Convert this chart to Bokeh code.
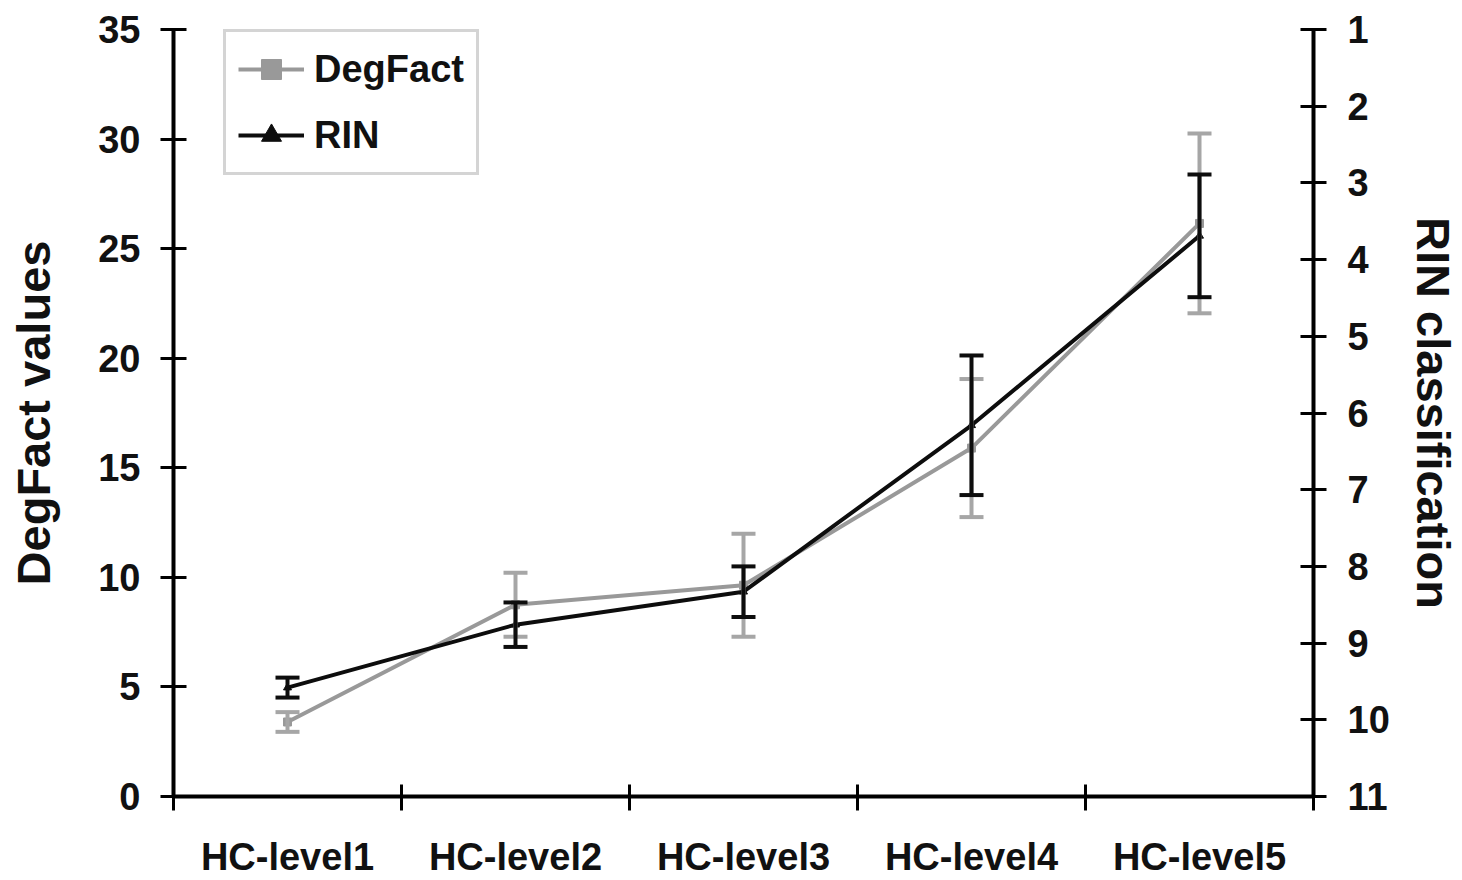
import numpy as np
from bokeh.plotting import figure
from bokeh.models import (Range1d, LinearAxis, FixedTicker, Whisker, TeeHead,
                          ColumnDataSource)
from bokeh.embed import file_html
from bokeh.resources import INLINE

# ---- data ----
categories = ["HC-level1", "HC-level2", "HC-level3", "HC-level4", "HC-level5"]
degfact = [3.4, 8.75, 9.64, 15.9, 26.15]
degfact_err = [0.45, 1.46, 2.35, 3.15, 4.1]
rin = [9.58, 8.76, 8.33, 6.16, 3.69]
rin_err = [0.13, 0.29, 0.33, 0.91, 0.8]
left_ticks = [0, 5, 10, 15, 20, 25, 30, 35]
rin_ticks = [1, 2, 3, 4, 5, 6, 7, 8, 9, 10, 11]

FONT = "Liberation Sans"
GRAY_LINE = "#999999"
GRAY_BAR = "#a6a6a6"
BLACK = "#0d0d0d"
TXT = "#111111"

n = len(categories)
xc = np.arange(n) + 0.5          # category centres
bounds = list(np.arange(n + 1))  # category boundaries

src_d = ColumnDataSource(dict(x=xc, y=degfact,
                              lo=np.array(degfact) - np.array(degfact_err),
                              hi=np.array(degfact) + np.array(degfact_err)))
src_r = ColumnDataSource(dict(x=xc, y=rin,
                              lo=np.array(rin) - np.array(rin_err),
                              hi=np.array(rin) + np.array(rin_err)))

p = figure(width=1462, height=880, output_backend="svg", toolbar_location=None,
           x_range=Range1d(0, n), y_range=Range1d(left_ticks[0], left_ticks[-1]),
           min_border_left=173, min_border_right=149, min_border_top=29,
           min_border_bottom=83)
p.extra_y_ranges = {"rin": Range1d(start=rin_ticks[-1], end=rin_ticks[0])}
p.outline_line_color = None
p.xgrid.visible = False
p.ygrid.visible = False
p.background_fill_color = "white"
p.border_fill_color = "white"

# ---- DegFact (gray) ----
wd = Whisker(base="x", lower="lo", upper="hi", source=src_d, dimension="height",
             line_color=GRAY_BAR, line_width=4, level="glyph",
             upper_head=TeeHead(size=24, line_color=GRAY_BAR, line_width=4),
             lower_head=TeeHead(size=24, line_color=GRAY_BAR, line_width=4))
p.add_layout(wd)
p.line("x", "y", source=src_d, line_color=GRAY_LINE, line_width=4, legend_label="DegFact")
p.scatter("x", "y", source=src_d, marker="square", size=8, color=GRAY_LINE, legend_label="DegFact")

# ---- RIN (black) ----
wr = Whisker(base="x", lower="lo", upper="hi", source=src_r, dimension="height",
             y_range_name="rin", line_color=BLACK, line_width=4, level="glyph",
             upper_head=TeeHead(size=24, line_color=BLACK, line_width=4),
             lower_head=TeeHead(size=24, line_color=BLACK, line_width=4))
p.add_layout(wr)
p.line("x", "y", source=src_r, y_range_name="rin", line_color=BLACK, line_width=4, legend_label="RIN")
p.scatter("x", "y", source=src_r, y_range_name="rin", marker="triangle", size=8,
          color=BLACK, legend_label="RIN")

# ---- x axis ----
xa = p.xaxis[0]
xa.ticker = FixedTicker(ticks=list(xc), minor_ticks=bounds)
xa.major_label_overrides = {float(c): lab for c, lab in zip(xc, categories)}
xa.major_tick_in = 0
xa.major_tick_out = 0
xa.minor_tick_in = 12
xa.minor_tick_out = 14
xa.minor_tick_line_color = "black"
xa.minor_tick_line_width = 3
xa.axis_line_width = 4
xa.axis_line_color = "black"
xa.major_label_text_font = FONT
xa.major_label_text_font_size = "38px"
xa.major_label_text_font_style = "bold"
xa.major_label_text_color = TXT
xa.major_label_standoff = 25

# ---- left axis ----
ya = p.yaxis[0]
ya.ticker = FixedTicker(ticks=left_ticks)
ya.axis_label = "DegFact values"
ya.axis_label_text_font = FONT
ya.axis_label_text_font_size = "47px"
ya.axis_label_text_font_style = "bold"
ya.axis_label_text_color = TXT
ya.axis_label_text_line_height = 0.9
ya.axis_label_standoff = 35
ya.axis_line_width = 4
ya.major_tick_in = 13
ya.major_tick_out = 13
ya.major_tick_line_width = 3
ya.minor_tick_line_color = None
ya.major_label_text_font = FONT
ya.major_label_text_font_size = "38px"
ya.major_label_text_font_style = "bold"
ya.major_label_text_color = TXT
ya.major_label_standoff = 20

# ---- right axis ----
ra = LinearAxis(y_range_name="rin", ticker=FixedTicker(ticks=rin_ticks))
ra.axis_label = "RIN classification"
ra.axis_label_text_font = FONT
ra.axis_label_text_font_size = "47px"
ra.axis_label_text_font_style = "bold"
ra.axis_label_text_color = TXT
ra.axis_label_text_line_height = 0.9
ra.axis_label_standoff = 14
ra.axis_line_width = 4
ra.major_tick_in = 13
ra.major_tick_out = 13
ra.major_tick_line_width = 3
ra.minor_tick_line_color = None
ra.major_label_text_font = FONT
ra.major_label_text_font_size = "38px"
ra.major_label_text_font_style = "bold"
ra.major_label_text_color = TXT
ra.major_label_standoff = 21
p.add_layout(ra, "right")

# ---- legend ----
lg = p.legend[0]
lg.location = (50, 621)
lg.label_text_font = FONT
lg.label_text_font_size = "38px"
lg.label_text_font_style = "bold"
lg.label_text_color = TXT
lg.label_height = 50
lg.glyph_height = 50
lg.glyph_width = 66
lg.label_standoff = 10
lg.spacing = 16
lg.padding = 12
lg.margin = 0
lg.border_line_color = "#aaaaaa"
lg.border_line_width = 3
lg.background_fill_color = "white"
lg.background_fill_alpha = 1.0

open("out.html", "w").write(file_html(p, INLINE))
